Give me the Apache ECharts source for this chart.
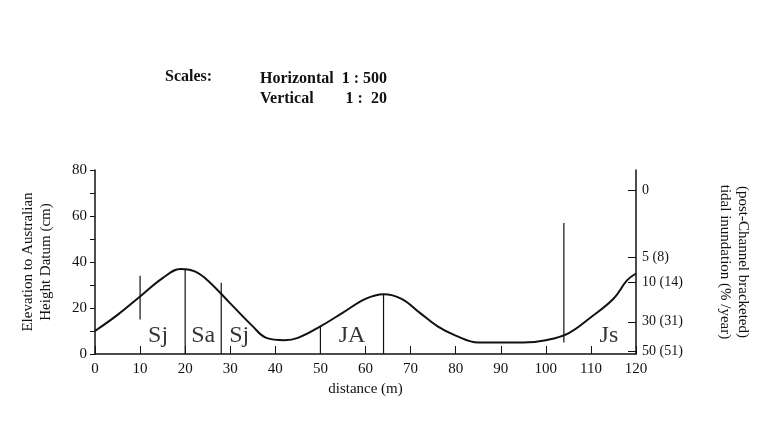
<!DOCTYPE html><html><head><meta charset="utf-8"><script src="https://cdn.jsdelivr.net/npm/echarts@6/dist/echarts.min.js"></script>
<style>body{margin:0;background:#fff}#c{width:777px;height:427px}</style></head><body><div id="c"></div><script>
const profileX=[0,5,10,15,19,22,25,30,35,38,42,45,50,55,60,64,68,72,76,80,85,90,95,100,105,110,115,118,120];
const profileY=[10,17,25,33,37,36,32,22,12,7,6,7,12,18,24,26,24,18,12,8,5,5,5,6,9,16,24,32,35];
const boundX=[10,20,28,50,64,104];
const boundBottom=[15,0,0,0,0,5];
const boundTop=[34,37,31,12,26,57];
const zoneNames=['Sj','Sa','Sj','JA','Js'];
const zoneX=[14,24,32,57,114];
const zoneY=[8,8,8,8,8];
const rightTickVals=[71,42,31,14,1];
const rightTickLabels=['0','5 (8)','10 (14)','30 (31)','50 (51)'];
const font='Liberation Serif';
const series=[{type:'line',data:profileX.map((x,i)=>[x,profileY[i]]),smooth:0.4,symbol:'none',lineStyle:{color:'#111',width:2}}];
boundX.forEach((x,i)=>series.push({type:'line',data:[[x,boundBottom[i]],[x,boundTop[i]]],symbol:'none',lineStyle:{color:'#111',width:1.2}}));
series.push({type:'scatter',data:zoneX.map((x,i)=>[x,zoneY[i],zoneNames[i]]),symbolSize:0,label:{show:true,formatter:p=>p.data[2],color:'#000',fontFamily:font,fontSize:24}});
const c=echarts.init(document.getElementById('c'));
c.setOption({animation:false,
grid:{left:95,right:141,top:170,bottom:73},
title:[{text:'Scales:',left:160,top:64,textStyle:{fontFamily:font,fontSize:16,fontWeight:'bold',color:'#111'}},
{text:'Horizontal  1 : 500\nVertical        1 :  20',left:255,top:64,textStyle:{fontFamily:font,fontSize:16,fontWeight:'bold',color:'#111',lineHeight:20}}],
xAxis:{type:'value',min:0,max:120,interval:10,name:'distance (m)',nameLocation:'middle',nameGap:28,nameTextStyle:{fontFamily:font,fontSize:15,color:'#111'},
axisLine:{lineStyle:{color:'#111',width:1.5}},axisTick:{inside:true,length:8,lineStyle:{color:'#111'}},axisLabel:{fontFamily:font,fontSize:15,color:'#111'},splitLine:{show:false}},
yAxis:[{type:'value',min:0,max:80,interval:20,name:'Elevation to Australian\nHeight Datum (cm)',nameLocation:'middle',nameGap:40,nameTextStyle:{fontFamily:font,fontSize:15,color:'#111',lineHeight:18},
minorTick:{show:true,splitNumber:2,length:5,lineStyle:{color:'#111'}},
axisLine:{show:true,lineStyle:{color:'#111',width:1.5}},axisTick:{length:5,lineStyle:{color:'#111'}},axisLabel:{fontFamily:font,fontSize:15,color:'#111'},splitLine:{show:false}},
{type:'value',min:0,max:80,position:'right',name:'(post-Channel bracketed)\ntidal inundation (% /year)',nameLocation:'middle',nameGap:80,nameRotate:-90,nameTextStyle:{fontFamily:font,fontSize:15,color:'#111',lineHeight:18},
axisLine:{show:true,lineStyle:{color:'#111',width:1.5}},axisTick:{show:true,customValues:rightTickVals,inside:true,length:8,lineStyle:{color:'#111'}},
axisLabel:{customValues:rightTickVals,formatter:v=>rightTickLabels[rightTickVals.indexOf(v)]||'',fontFamily:font,fontSize:14,color:'#111',margin:6},splitLine:{show:false}}],
series});
</script></body></html>
